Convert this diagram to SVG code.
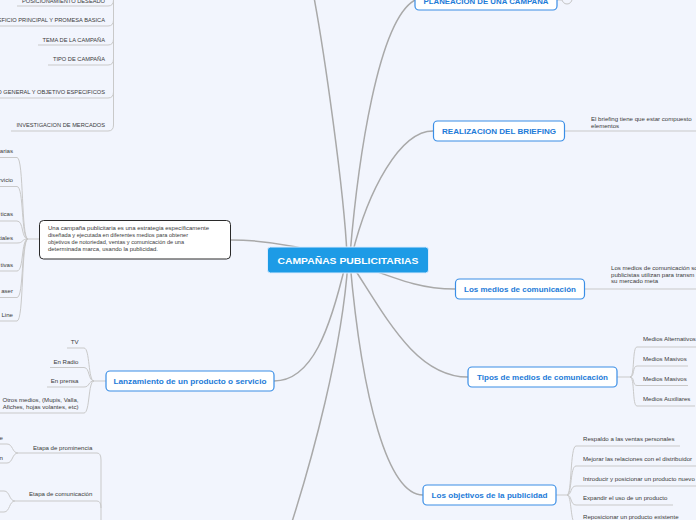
<svg xmlns="http://www.w3.org/2000/svg" width="696" height="520" viewBox="0 0 696 520">
<style>
.bg{fill:#f2f5fd}
.main{stroke:#a9a9a9;stroke-width:1.5;fill:none}
.sub{stroke:#c9c9c9;stroke-width:1;fill:none}
.mbox{fill:#fff;stroke:#3a8ee6;stroke-width:1.2}
.mtxt{font-family:"Liberation Sans",Arial,sans-serif;font-weight:bold;font-size:7.6px;fill:#1d7bd8;text-anchor:middle}
.ctxt{font-family:"Liberation Sans",Arial,sans-serif;font-weight:bold;font-size:9.5px;fill:#fff;text-anchor:middle}
.t{font-family:"Liberation Sans",Arial,sans-serif;font-size:6.1px;fill:#3a3a3a}
.up{font-family:"Liberation Sans",Arial,sans-serif;font-size:5.7px;fill:#3a3a3a;text-anchor:end}
.e{text-anchor:end}
</style>
<rect class="bg" x="0" y="0" width="696" height="520"/>
<g id="connectors">
<path class="main" d="M347 255 C344 190 324 50 313 -8"/>
<path class="main" d="M350 255 C358 160 378 20 415 0"/>
<path class="main" d="M352 255 C368 190 400 131 433 131"/>
<path class="main" d="M340 258 C300 246 262 240 231 240"/>
<path class="main" d="M350 262 C405 282 422 289 455 289"/>
<path class="main" d="M350 262 C385 315 415 377 468 377"/>
<path class="main" d="M350 262 C362 400 388 495 423 495"/>
<path class="main" d="M346 262 C330 330 312 381 274 381"/>
<path class="main" d="M348 262 C342 350 312 460 290 528"/>
<path class="sub" d="M557 0 H562"/>
<path class="sub" d="M113.5 -8 V125 Q113.5 131 108 131"/>
<path class="sub" d="M113.5 0 Q113.5 6 108 6"/>
<path class="sub" d="M113.5 20 Q113.5 26 108 26"/>
<path class="sub" d="M113.5 39 Q113.5 45 108 45"/>
<path class="sub" d="M113.5 59 Q113.5 65 108 65"/>
<path class="sub" d="M113.5 92 Q113.5 98 108 98"/>
<path class="sub" d="M17 6 H108 M0 26 H108 M38 45 H108 M48 65 H108 M0 98 H108 M11 131 H108"/>
<path class="sub" d="M39 239 H28"/>
<path class="sub" d="M28 239 C21 239 24 157.5 17 157.5 H0"/>
<path class="sub" d="M28 239 C21 239 24 186.5 17 186.5 H0"/>
<path class="sub" d="M28 239 C21 239 24 221 17 221 H0"/>
<path class="sub" d="M28 239 C21 239 24 243 17 243 H0"/>
<path class="sub" d="M28 239 C21 239 24 271 17 271 H0"/>
<path class="sub" d="M28 239 C21 239 24 297.5 17 297.5 H0"/>
<path class="sub" d="M28 239 C21 239 24 321 17 321 H0"/>
<path class="sub" d="M106 381 H94"/>
<path class="sub" d="M94 381 C88 381 90 348 84 348 H67"/>
<path class="sub" d="M94 381 C88 381 90 367.5 84 367.5 H50"/>
<path class="sub" d="M94 381 C88 381 90 387 84 387 H47"/>
<path class="sub" d="M94 381 C88 381 90 413 84 413 H0"/>
<path class="sub" d="M18 453 H97 Q101 453 101 460 V528"/>
<path class="sub" d="M15 501 H97 Q101 501 101 508"/>
<path class="sub" d="M18 453 C12 453 13 444 7 444 H0"/>
<path class="sub" d="M18 453 C12 453 13 463 7 463 H0"/>
<path class="sub" d="M15 501 C9 501 10 491 4 491 H0"/>
<path class="sub" d="M15 501 C9 501 10 512 4 512 H0"/>
<path class="sub" d="M565 131 H696"/>
<path class="sub" d="M584 289 H696"/>
<path class="sub" d="M617 377 H630"/>
<path class="sub" d="M630 377 C635 377 632 347 637 347 H696"/>
<path class="sub" d="M630 377 C635 377 632 366 637 366 H688"/>
<path class="sub" d="M630 377 C635 377 632 385.5 637 385.5 H688"/>
<path class="sub" d="M630 377 C635 377 632 406 637 406 H695"/>
<path class="sub" d="M556 495 H567"/>
<path class="sub" d="M567 495 C572 495 570 446 576 446 H680"/>
<path class="sub" d="M567 495 C572 495 570 466 576 466 H696"/>
<path class="sub" d="M567 495 C572 495 570 486 576 486 H696"/>
<path class="sub" d="M567 495 C572 495 570 505 576 505 H673"/>
<path class="sub" d="M567 495 C572 495 570 524 576 524 H690"/>
</g>
<g id="center">
<rect x="267.5" y="247" width="161" height="26" rx="3" fill="#1d9be6" stroke="#dcecff" stroke-width="1"/>
<text class="ctxt" x="348" y="264" textLength="141" lengthAdjust="spacingAndGlyphs">CAMPAÑAS PUBLICITARIAS</text>
</g>
<g id="planeacion">
<rect class="mbox" x="415" y="-12" width="142" height="22" rx="4"/>
<text class="mtxt" x="486" y="3.5" textLength="125" lengthAdjust="spacingAndGlyphs">PLANEACION DE UNA CAMPAÑA</text>
<circle cx="567" cy="-1" r="5" fill="#f2f5fd" stroke="#c4c4c4" stroke-width="1"/>
</g>
<g id="briefing">
<rect class="mbox" x="433.5" y="121" width="131" height="20" rx="4"/>
<text class="mtxt" x="499" y="134" textLength="114" lengthAdjust="spacingAndGlyphs">REALIZACION DEL BRIEFING</text>
<text class="t" x="591" y="121" font-size="5.8">El briefing tiene que estar compuesto</text>
<text class="t" x="591" y="127.5" font-size="5.8">elementos</text>
</g>
<g id="medios">
<rect class="mbox" x="455.5" y="279" width="129" height="20" rx="4"/>
<text class="mtxt" x="520" y="292" textLength="112" lengthAdjust="spacingAndGlyphs">Los medios de comunicación</text>
<text class="t" x="611" y="270" font-size="5.8">Los medios de comunicación so</text>
<text class="t" x="611" y="276.5" font-size="5.8">publicistas utilizan para transm</text>
<text class="t" x="611" y="283" font-size="5.8">su mercado meta</text>
</g>
<g id="tipos">
<rect class="mbox" x="468" y="367" width="149" height="20" rx="4"/>
<text class="mtxt" x="542.5" y="380" textLength="131" lengthAdjust="spacingAndGlyphs">Tipos de medios de comunicación</text>
<text class="t" x="643" y="341">Medios Alternativos</text>
<text class="t" x="643" y="361">Medios Masivos</text>
<text class="t" x="643" y="380.5">Medios Masivos</text>
<text class="t" x="643" y="400.5">Medios Auxiliares</text>
</g>
<g id="objetivos">
<rect class="mbox" x="423" y="485" width="133" height="20" rx="4"/>
<text class="mtxt" x="489.5" y="498" textLength="116" lengthAdjust="spacingAndGlyphs">Los objetivos de la publicidad</text>
<text class="t" x="583" y="441">Respaldo a las ventas personales</text>
<text class="t" x="583" y="461">Mejorar las relaciones con el distribuidor</text>
<text class="t" x="583" y="481">Introducir y posicionar un producto nuevo</text>
<text class="t" x="583" y="500">Expandir el uso de un producto</text>
<text class="t" x="583" y="519">Reposicionar un producto existente</text>
</g>
<g id="lanzamiento">
<rect class="mbox" x="106" y="371" width="168" height="20" rx="4"/>
<text class="mtxt" x="190" y="384" textLength="153" lengthAdjust="spacingAndGlyphs">Lanzamiento de un producto o servicio</text>
<text class="t e" x="78.5" y="344">TV</text>
<text class="t e" x="78.5" y="363.5">En Radio</text>
<text class="t e" x="78.5" y="383">En prensa</text>
<text class="t e" x="78.5" y="402">Otros medios, (Mupis, Valla,</text>
<text class="t e" x="78.5" y="409">Afiches, hojas volantes, etc)</text>
</g>
<g id="descripcion">
<rect x="39.5" y="220.5" width="191" height="38.5" rx="4" fill="#fff" stroke="#2a2a2a" stroke-width="1"/>
<text class="t" x="48" y="230" font-size="5.6" textLength="161" lengthAdjust="spacingAndGlyphs">Una campaña publicitaria es una estrategia específicamente</text>
<text class="t" x="48" y="237" font-size="5.6" textLength="140" lengthAdjust="spacingAndGlyphs">diseñada y ejecutada en diferentes medios para obtener</text>
<text class="t" x="48" y="244" font-size="5.6" textLength="136" lengthAdjust="spacingAndGlyphs">objetivos de notoriedad, ventas y comunicación de una</text>
<text class="t" x="48" y="251" font-size="5.6" textLength="110" lengthAdjust="spacingAndGlyphs">determinada marca, usando la publicidad.</text>
<text class="t e" x="13" y="153">arias</text>
<text class="t e" x="13" y="182">rvicio</text>
<text class="t e" x="13" y="216">ticas</text>
<text class="t e" x="13" y="239.5">ciales</text>
<text class="t e" x="13" y="266.5">tivas</text>
<text class="t e" x="13" y="293">aser</text>
<text class="t e" x="13" y="316.5">Line</text>
</g>
<g id="planeacion-items">
<text class="up" x="105" y="2.5">POSICIONAMIENTO DESEADO</text>
<text class="up" x="105" y="22">BENEFICIO PRINCIPAL Y PROMESA BASICA</text>
<text class="up" x="105" y="41.5">TEMA DE LA CAMPAÑA</text>
<text class="up" x="105" y="61">TIPO DE CAMPAÑA</text>
<text class="up" x="105" y="93.5">OBJETIVO GENERAL Y OBJETIVO ESPECIFICOS</text>
<text class="up" x="105" y="127">INVESTIGACION DE MERCADOS</text>
</g>
<g id="etapas">
<text class="t" x="33" y="449.5">Etapa de prominencia</text>
<text class="t" x="29" y="496">Etapa de comunicación</text>
<text class="t e" x="3" y="440">e</text>
<text class="t e" x="3" y="460">n</text>
</g>
</svg>
